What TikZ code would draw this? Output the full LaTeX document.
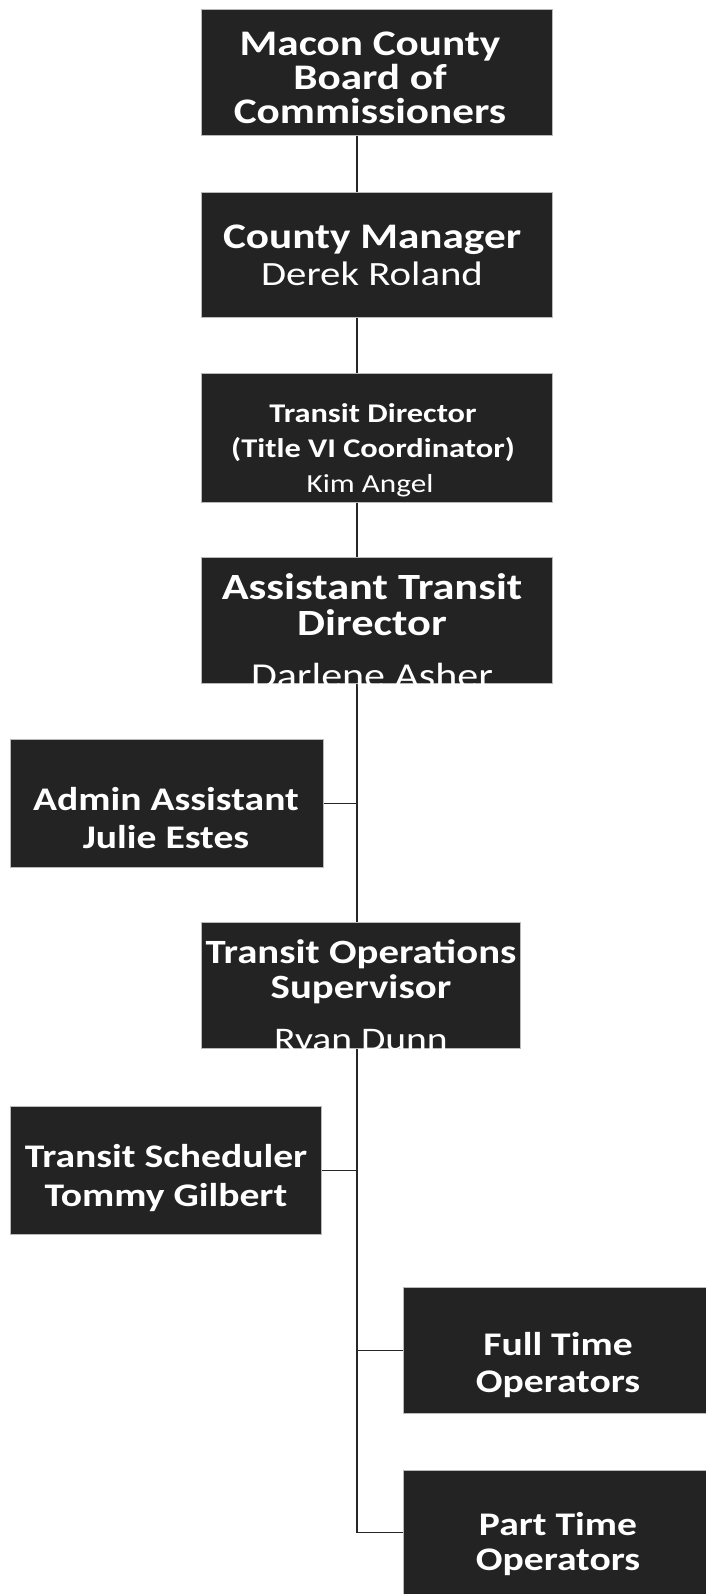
\documentclass[tikz,border=0pt]{standalone}
\usepackage{fontspec}
\newfontfamily\orgfont[FakeStretch=1.2]{Carlito}
\definecolor{clBox}{HTML}{232323}
\usetikzlibrary{positioning,backgrounds}
\newcommand\orgsize[1]{\fontsize{#1}{#1}\selectfont}

\begin{document}
\begin{tikzpicture}[x=1pt,y=-1pt,
  orgbox/.style={draw=gray!55, line width=0.6pt, fill=clBox, anchor=north west, inner sep=0pt},
  orgtext/.style={text=white, anchor=base, inner sep=0pt, font=\orgfont},
  link/.style={line width=1.6pt, black!85}]
  \useasboundingbox (0,0) rectangle (706,1594);
  \coordinate (spine) at (357,0);

  % main column
  \node[orgbox, minimum width=351pt, minimum height=126pt] (board) at (201,9) {};
  \node[orgbox, minimum width=351pt, minimum height=125pt] (manager) at (201,192) {};
  \node[orgbox, minimum width=351pt, minimum height=129pt] (director) at (201,373) {};
  \node[orgbox, minimum width=351pt, minimum height=126pt] (assistant) at (201,557) {};
  \node[orgbox, minimum width=319pt, minimum height=126pt] (supervisor) at (201,922) {};
  % side boxes
  \node[orgbox, minimum width=313pt, minimum height=128pt] (admin) at (10,739) {};
  \node[orgbox, minimum width=311pt, minimum height=128pt] (scheduler) at (10,1106) {};
  \node[orgbox, minimum width=303pt, minimum height=126pt] (fulltime) at (403,1287) {};
  \node[orgbox, minimum width=303pt, minimum height=124pt] (parttime) at (403,1470) {};

  % texts
  \node[orgtext] (boardA) at (370,56) {\orgsize{36}\bfseries Macon County};
  \node[orgtext] (boardB) at (370,90) {\orgsize{36}\bfseries Board of};
  \node[orgtext] (boardC) at (370,124) {\orgsize{36}\bfseries Commissioners};
  \node[orgtext] (managerA) at (372,249) {\orgsize{36}\bfseries County Manager};
  \node[orgtext] (managerB) at (372,286) {\orgsize{34}Derek Roland};
  \node[orgtext] (directorA) at (373,422) {\orgsize{27}\bfseries Transit Director};
  \node[orgtext] (directorB) at (373,457) {\orgsize{27}\bfseries (Title VI Coordinator)};
  \node[orgtext] (directorC) at (370,492) {\orgsize{26}Kim Angel};
  \node[orgtext] (assistantA) at (372,599) {\orgsize{37}\bfseries Assistant Transit};
  \node[orgtext] (assistantB) at (372,635) {\orgsize{37}\bfseries Director};
  \node[orgtext] (assistantC) at (372,687) {\orgsize{35}Darlene Asher};
  \node[orgtext] (adminA) at (166,810) {\orgsize{33}\bfseries Admin Assistant};
  \node[orgtext] (adminB) at (166,848) {\orgsize{33}\bfseries Julie Estes};
  \node[orgtext] (supervisorA) at (361,963) {\orgsize{34}\bfseries Transit Operations};
  \node[orgtext] (supervisorB) at (361,998) {\orgsize{34}\bfseries Supervisor};
  \node[orgtext] (supervisorC) at (361,1050) {\orgsize{33}Ryan Dunn};
  \node[orgtext] (schedulerA) at (166,1167) {\orgsize{33}\bfseries Transit Scheduler};
  \node[orgtext] (schedulerB) at (166,1206) {\orgsize{33}\bfseries Tommy Gilbert};
  \node[orgtext] (fulltimeA) at (558,1355) {\orgsize{33}\bfseries Full Time};
  \node[orgtext] (fulltimeB) at (558,1392) {\orgsize{33}\bfseries Operators};
  \node[orgtext] (parttimeA) at (558,1535) {\orgsize{33}\bfseries Part Time};
  \node[orgtext] (parttimeB) at (558,1570) {\orgsize{33}\bfseries Operators};

  % connectors
  \begin{scope}[on background layer]
    \draw[link] (board.south -| spine) -- (manager.north -| spine);
    \draw[link] (manager.south -| spine) -- (director.north -| spine);
    \draw[link] (director.south -| spine) -- (assistant.north -| spine);
    \draw[link] (assistant.south -| spine) -- (supervisor.north -| spine);
    \draw[link] (admin.east) -- (admin.east -| spine);
    \draw[link] (supervisor.south -| spine) |- (parttime.west);
    \draw[link] (scheduler.east) -- (scheduler.east -| spine);
    \draw[link] (fulltime.west -| spine) -- (fulltime.west);
  \end{scope}
\end{tikzpicture}
\end{document}
